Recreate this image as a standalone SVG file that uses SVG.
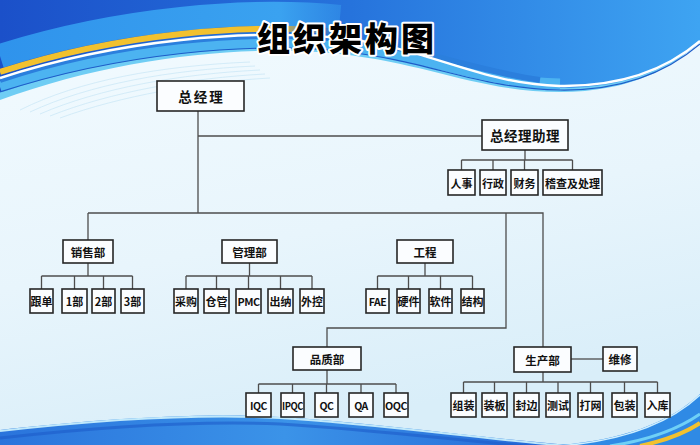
<svg xmlns="http://www.w3.org/2000/svg" width="700" height="445" viewBox="0 0 700 445">
<defs>
<linearGradient id="bg" x1="0" y1="0" x2="0.3" y2="1">
<stop offset="0" stop-color="#f3fbff"/>
<stop offset="0.6" stop-color="#e8f5fc"/>
<stop offset="1" stop-color="#d9eef9"/>
</linearGradient>
<linearGradient id="topBlue" x1="0" y1="0" x2="1" y2="0">
<stop offset="0" stop-color="#1b50c9"/>
<stop offset="0.5" stop-color="#2673dc"/>
<stop offset="1" stop-color="#3ea4f2"/>
</linearGradient>
<linearGradient id="fadeYellow" x1="0" y1="0" x2="700" y2="0" gradientUnits="userSpaceOnUse">
<stop offset="0" stop-color="#f2c12e"/>
<stop offset="0.38" stop-color="#f2c12e"/>
<stop offset="0.48" stop-color="#f2c12e" stop-opacity="0"/>
</linearGradient>
<linearGradient id="fadeBright" x1="0" y1="0" x2="700" y2="0" gradientUnits="userSpaceOnUse">
<stop offset="0" stop-color="#2f93ec"/>
<stop offset="0.4" stop-color="#3aa2f0"/>
<stop offset="0.55" stop-color="#3aa2f0" stop-opacity="0"/>
</linearGradient>
<linearGradient id="botBlue" x1="0" y1="0" x2="1" y2="0">
<stop offset="0" stop-color="#2a74dc"/>
<stop offset="0.5" stop-color="#3b93e8"/>
<stop offset="1" stop-color="#2466d6"/>
</linearGradient>
<style>
.box{fill:#fbfdff;stroke:#262626;stroke-width:1.6}
.lk{fill:none;stroke:#4d4d4d;stroke-width:1.3}
.t{font-family:"Noto Sans CJK SC","Noto Sans",sans-serif;font-weight:700;fill:#111;text-anchor:middle;dominant-baseline:central}
.t1{font-size:13.5px;letter-spacing:2px}
.t2{font-size:11.5px}
.t3{font-size:11px}
.tl{font-size:10.5px;letter-spacing:-0.5px}
.title{font-family:"Noto Sans CJK SC","Noto Sans",sans-serif;font-weight:900;font-size:33px;letter-spacing:3px;fill:#000;stroke:#fff;stroke-width:4;stroke-linejoin:round;paint-order:stroke;text-anchor:middle}
</style>
</defs>

<!-- background -->
<rect x="0" y="0" width="700" height="445" fill="url(#bg)"/>
<g fill="none" stroke="#bfe3f5" stroke-width="0.7" opacity="0.8">
<path d="M20,110 C80,80 160,66 250,62"/>
<path d="M30,112 C90,84 170,70 255,66"/>
<path d="M40,114 C100,88 180,74 260,70"/>
<path d="M50,116 C110,92 190,78 265,74"/>
<path d="M60,118 C120,96 200,82 270,78"/>
</g>
<path d="M0,0 H700 V42 C672,68 630,92 560,92 C480,92 430,64 340,54 C250,44 120,56 0,100 Z" fill="#6fcdf4"/>
<path d="M0,0 H700 V42 C672,66 630,88 560,88 C480,88 430,60 340,50 C250,40 120,52 0,92 Z" fill="url(#topBlue)"/>
<path d="M0,87 C120,47 250,37 340,46 C430,55 480,82 560,84" fill="none" stroke="#4cb3f1" stroke-width="11"/>
<path d="M0,80 C120,40 250,30 340,39 C420,47 470,70 540,80" fill="none" stroke="#2b7fdd" stroke-width="6"/>
<path d="M0,56 C120,18 250,8 340,17" fill="none" stroke="url(#fadeBright)" stroke-width="24"/>
<path d="M0,72 C120,33 250,23 340,32 C420,40 470,66 540,76" fill="none" stroke="url(#fadeYellow)" stroke-width="6"/>
<path d="M0,78 C120,39 250,29 340,38 C430,48 480,84 560,86 C630,87 672,65 700,41" fill="none" stroke="#ffffff" stroke-width="2.4"/>
<path d="M0,92 C120,53 250,42 340,51 C430,61 480,89 560,90 C630,91 672,68 700,44" fill="none" stroke="#1e5cc8" stroke-width="1.2"/>

<!-- bottom waves -->
<path d="M0,445 V430 C80,421 190,412 280,417 C380,423 480,438 570,445 Z" fill="url(#botBlue)"/>
<path d="M0,431 C80,422 190,413 280,418 C380,424 480,439 570,446" fill="none" stroke="#bfe8fb" stroke-width="2"/>
<path d="M0,438 C90,428 190,420 280,424 C380,430 470,442 540,447" fill="none" stroke="#1c5bc9" stroke-width="3" opacity="0.6"/>
<path d="M560,445 C620,440 668,424 700,394 V445 Z" fill="#2f8ae5"/>
<path d="M560,446 C620,441 668,425 700,395" fill="none" stroke="#cfefff" stroke-width="1.5"/>
<path d="M610,446 C650,440 680,428 700,414" fill="none" stroke="#6fd0f6" stroke-width="3"/>
<path d="M640,446 C668,440 688,431 700,423" fill="none" stroke="#f2c12e" stroke-width="4"/>

<!-- title -->
<text class="title" x="347" y="51">组织架构图</text>

<!-- connectors -->
<g id="connectors" class="lk">
<path d="M198,111 V213 M198,136 H482"/>
<path d="M525,150 V160 M461.5,160 H572.5 M461.5,160 V170 M493,160 V170 M524.5,160 V170 M572.5,160 V170"/>
<path d="M88,213 H543 V347 M88,213 V240"/>
<path d="M88,263 V276 M41.5,276 H132.5 M41.5,276 V289 M74.5,276 V289 M103.5,276 V289 M132.5,276 V289"/>
<path d="M249.5,263 V276 M186,276 H312 M186,276 V289 M216.5,276 V289 M248.5,276 V289 M280.5,276 V289 M312,276 V289"/>
<path d="M425,263 V276 M377.5,276 H472.5 M377.5,276 V289 M408.5,276 V289 M440.5,276 V289 M472.5,276 V289"/>
<path d="M506,213 V328 H327 V347"/>
<path d="M327,370 V384 M258.5,384 H396 M258.5,384 V393 M292.5,384 V393 M326.5,384 V393 M361,384 V393 M396,384 V393"/>
<path d="M543,372 V382 M463.5,382 H657.5 M463.5,382 V393 M494.5,382 V393 M526.5,382 V393 M558,382 V393 M590.5,382 V393 M624.5,382 V393 M657.5,382 V393"/>
<path d="M571,359 H603"/>
</g>

<!-- top level -->
<g id="n-zjl"><rect class="box" x="157" y="81" width="87" height="30"/><text class="t t1" x="201.5" y="96">总经理</text></g>
<g id="n-zjlzl"><rect class="box" x="482" y="120" width="86" height="30"/><text class="t t1" x="525" y="135" style="letter-spacing:0.5px">总经理助理</text></g>
<g id="n-rs"><rect class="box" x="448" y="170" width="27" height="25"/><text class="t t3" x="461.5" y="182.5">人事</text></g>
<g id="n-xz"><rect class="box" x="480" y="170" width="26" height="25"/><text class="t t3" x="493" y="182.5">行政</text></g>
<g id="n-cw"><rect class="box" x="511" y="170" width="27" height="25"/><text class="t t3" x="524.5" y="182.5">财务</text></g>
<g id="n-jc"><rect class="box" x="543" y="170" width="59" height="25"/><text class="t t3" x="572.5" y="182.5">稽查及处理</text></g>

<!-- 销售部 -->
<g id="n-xsb"><rect class="box" x="63" y="240" width="50" height="23"/><text class="t t2" x="88" y="251.5">销售部</text></g>
<g id="n-gd"><rect class="box" x="30" y="289" width="23" height="24"/><text class="t t3" x="41.5" y="301">跟单</text></g>
<g id="n-1b"><rect class="box" x="62" y="289" width="25" height="24"/><text class="t t3" x="74.5" y="301">1部</text></g>
<g id="n-2b"><rect class="box" x="92" y="289" width="23" height="24"/><text class="t t3" x="103.5" y="301">2部</text></g>
<g id="n-3b"><rect class="box" x="121" y="289" width="23" height="24"/><text class="t t3" x="132.5" y="301">3部</text></g>

<!-- 管理部 -->
<g id="n-glb"><rect class="box" x="222" y="240" width="55" height="23"/><text class="t t2" x="249.5" y="251.5">管理部</text></g>
<g id="n-cg"><rect class="box" x="174" y="289" width="24" height="24"/><text class="t t3" x="186" y="301">采购</text></g>
<g id="n-cgg"><rect class="box" x="204" y="289" width="25" height="24"/><text class="t t3" x="216.5" y="301">仓管</text></g>
<g id="n-pmc"><rect class="box" x="236" y="289" width="25" height="24"/><text class="t tl" x="248.5" y="301" textLength="22" lengthAdjust="spacingAndGlyphs">PMC</text></g>
<g id="n-cn"><rect class="box" x="268" y="289" width="25" height="24"/><text class="t t3" x="280.5" y="301">出纳</text></g>
<g id="n-wk"><rect class="box" x="300" y="289" width="24" height="24"/><text class="t t3" x="312" y="301">外控</text></g>

<!-- 工程 -->
<g id="n-gc"><rect class="box" x="397" y="240" width="56" height="23"/><text class="t t2" x="425" y="251.5">工程</text></g>
<g id="n-fae"><rect class="box" x="366" y="289" width="23" height="24"/><text class="t tl" x="377.5" y="301">FAE</text></g>
<g id="n-yj"><rect class="box" x="397" y="289" width="23" height="24"/><text class="t t3" x="408.5" y="301">硬件</text></g>
<g id="n-rj"><rect class="box" x="429" y="289" width="23" height="24"/><text class="t t3" x="440.5" y="301">软件</text></g>
<g id="n-jg"><rect class="box" x="461" y="289" width="23" height="24"/><text class="t t3" x="472.5" y="301">结构</text></g>

<!-- 品质部 -->
<g id="n-pzb"><rect class="box" x="293" y="347" width="68" height="23"/><text class="t t2" x="327" y="358.5">品质部</text></g>
<g id="n-iqc"><rect class="box" x="246" y="393" width="25" height="24"/><text class="t tl" x="258.5" y="405">IQC</text></g>
<g id="n-ipqc"><rect class="box" x="281" y="393" width="23" height="24"/><text class="t tl" x="292.5" y="405" textLength="21" lengthAdjust="spacingAndGlyphs">IPQC</text></g>
<g id="n-qc"><rect class="box" x="315" y="393" width="23" height="24"/><text class="t tl" x="326.5" y="405">QC</text></g>
<g id="n-qa"><rect class="box" x="349" y="393" width="24" height="24"/><text class="t tl" x="361" y="405">QA</text></g>
<g id="n-oqc"><rect class="box" x="384" y="393" width="24" height="24"/><text class="t tl" x="396" y="405" textLength="22" lengthAdjust="spacingAndGlyphs">OQC</text></g>

<!-- 生产部 -->
<g id="n-scb"><rect class="box" x="514" y="347" width="57" height="25"/><text class="t t2" x="542.5" y="359.5">生产部</text></g>
<g id="n-wx"><rect class="box" x="603" y="347" width="34" height="24"/><text class="t t2" x="620" y="359">维修</text></g>
<g id="n-zz"><rect class="box" x="451" y="393" width="25" height="24"/><text class="t t3" x="463.5" y="405">组装</text></g>
<g id="n-zb"><rect class="box" x="482" y="393" width="25" height="24"/><text class="t t3" x="494.5" y="405">装板</text></g>
<g id="n-fb"><rect class="box" x="514" y="393" width="25" height="24"/><text class="t t3" x="526.5" y="405">封边</text></g>
<g id="n-cs"><rect class="box" x="546" y="393" width="24" height="24"/><text class="t t3" x="558" y="405">测试</text></g>
<g id="n-dw"><rect class="box" x="578" y="393" width="25" height="24"/><text class="t t3" x="590.5" y="405">打网</text></g>
<g id="n-bz"><rect class="box" x="612" y="393" width="25" height="24"/><text class="t t3" x="624.5" y="405">包装</text></g>
<g id="n-rk"><rect class="box" x="645" y="393" width="25" height="24"/><text class="t t3" x="657.5" y="405">入库</text></g>
</svg>
